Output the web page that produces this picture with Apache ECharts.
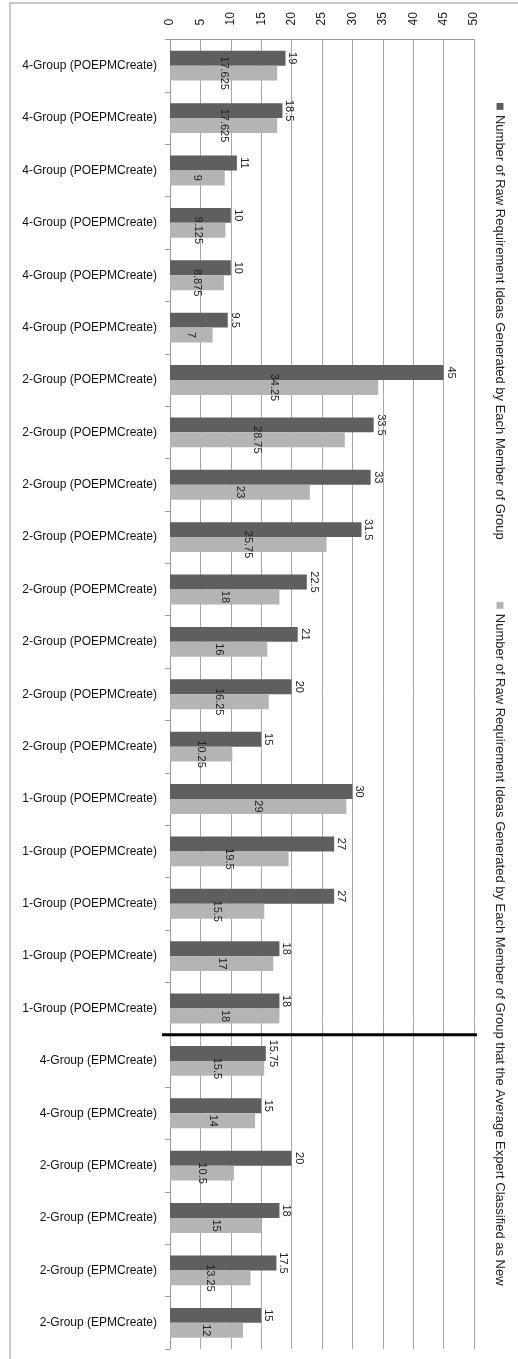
<!DOCTYPE html>
<html>
<head>
<meta charset="utf-8">
<script src="https://cdn.jsdelivr.net/npm/echarts@6/dist/echarts.min.js"></script>
<style>html,body{margin:0;padding:0;background:#fff}#c{width:518px;height:1359px}</style>
</head>
<body>
<div id="c"></div>
<script>
const categories = [
  '4-Group (POEPMCreate)','4-Group (POEPMCreate)','4-Group (POEPMCreate)','4-Group (POEPMCreate)','4-Group (POEPMCreate)','4-Group (POEPMCreate)',
  '2-Group (POEPMCreate)','2-Group (POEPMCreate)','2-Group (POEPMCreate)','2-Group (POEPMCreate)','2-Group (POEPMCreate)','2-Group (POEPMCreate)','2-Group (POEPMCreate)','2-Group (POEPMCreate)',
  '1-Group (POEPMCreate)','1-Group (POEPMCreate)','1-Group (POEPMCreate)','1-Group (POEPMCreate)','1-Group (POEPMCreate)',
  '4-Group (EPMCreate)','4-Group (EPMCreate)',
  '2-Group (EPMCreate)','2-Group (EPMCreate)','2-Group (EPMCreate)','2-Group (EPMCreate)'
];
const seriesNames = [
  'Number of Raw Requirement Ideas Generated by Each Member of Group',
  'Number of Raw Requirement Ideas Generated by Each Member of Group that the Average Expert Classified as New'
];
const rawIdeas = [19,18.5,11,10,10,9.5, 45,33.5,33,31.5,22.5,21,20,15, 30,27,27,18,18, 15.75,15, 20,18,17.5,15];
const newIdeas = [17.625,17.625,9,9.125,8.875,7, 34.25,28.75,23,25.75,18,16,16.25,10.25, 29,19.5,15.5,17,18, 15.5,14, 10.5,15,13.25,12];
const separatorAfterIndex = 18;
const axisMin = 0, axisMax = 50, axisStep = 5;

const FONT = 'Liberation Sans';
const colors = ['#5f5f5f', '#b4b4b4'];

const chart = echarts.init(document.getElementById('c'), null, {renderer: 'canvas'});
const option = {
  animation: false,
  backgroundColor: '#fff',
  textStyle: {fontFamily: FONT},
  grid: {left: 170, right: 44, top: 39.5, bottom: 10, containLabel: false},
  xAxis: {
    type: 'value', position: 'top', min: axisMin, max: axisMax, interval: axisStep,
    axisLine: {show: true, lineStyle: {color: '#999', width: 1}},
    axisTick: {show: false},
    axisLabel: {rotate: -90, margin: 14, fontSize: 12, color: '#222', fontFamily: FONT},
    splitLine: {show: true, lineStyle: {color: '#a6a6a6', width: 1}}
  },
  yAxis: {
    type: 'category', inverse: true, data: categories,
    axisLine: {show: true, lineStyle: {color: '#999', width: 1}},
    axisTick: {show: true, length: 5, interval: 0, lineStyle: {color: '#999'}},
    axisLabel: {interval: 0, margin: 13, fontSize: 12, color: '#111', fontFamily: FONT},
    splitLine: {show: false}
  },
  series: [
    {
      name: seriesNames[0], type: 'bar', data: rawIdeas, barGap: '0%', barCategoryGap: '43%',
      itemStyle: {color: colors[0]},
      label: {show: true, position: 'right', distance: 7, rotate: -90, align: 'center', verticalAlign: 'middle',
        fontSize: 11, color: '#222', fontFamily: FONT}
    },
    {
      name: seriesNames[1], type: 'bar', data: newIdeas, barGap: '0%', barCategoryGap: '43%',
      itemStyle: {color: colors[1]},
      label: {show: true, position: 'inside', rotate: -90, align: 'center', verticalAlign: 'middle',
        fontSize: 11, color: '#222', fontFamily: FONT}
    }
  ]
};
chart.setOption(option);

// separator line between categories, computed from axes
const ya = chart.convertToPixel({yAxisIndex: 0}, separatorAfterIndex);
const yb = chart.convertToPixel({yAxisIndex: 0}, separatorAfterIndex + 1);
const ySep = (ya + yb) / 2;
const x0 = chart.convertToPixel({xAxisIndex: 0}, axisMin);
const x1 = chart.convertToPixel({xAxisIndex: 0}, axisMax);

// legend (rotated), centred along the plot height
const LFONT = '13px "' + FONT + '"';
let w1, w2;
try {
  const cv = document.createElement('canvas').getContext('2d');
  cv.font = LFONT;
  w1 = cv.measureText(seriesNames[0]).width;
  w2 = cv.measureText(seriesNames[1]).width;
} catch (e) { w1 = seriesNames[0].length * 6.5; w2 = seriesNames[1].length * 6.5; }
const legendGap = 62;
const total = 12 + w1 + legendGap + 12 + w2;
const plotTop = chart.convertToPixel({yAxisIndex: 0}, 0) - (yb - ya) / 2;
const plotBottom = chart.convertToPixel({yAxisIndex: 0}, categories.length - 1) + (yb - ya) / 2;
const legendY = (plotTop + plotBottom) / 2 - total / 2;
const item2Start = 12 + w1 + legendGap;

chart.setOption({
  graphic: [
    {type: 'rect', shape: {x: 10, y: 3, width: 600, height: 1500}, style: {fill: 'none', stroke: '#b8b8b8', lineWidth: 1.5}, z: 0, silent: true},
    {type: 'line', shape: {x1: x0 - 8, y1: ySep, x2: x1 + 3, y2: ySep}, style: {stroke: '#000', lineWidth: 3}, z: 100},
    {
      type: 'group', x: 500, y: legendY, rotation: -Math.PI / 2,
      children: [
        {type: 'rect', shape: {x: 0, y: -3.5, width: 7, height: 7}, style: {fill: colors[0]}},
        {type: 'text', x: 12, y: 0, style: {text: seriesNames[0], font: LFONT, fill: '#222', verticalAlign: 'middle'}},
        {type: 'rect', shape: {x: item2Start, y: -3.5, width: 7, height: 7}, style: {fill: colors[1]}},
        {type: 'text', x: item2Start + 12, y: 0, style: {text: seriesNames[1], font: LFONT, fill: '#222', verticalAlign: 'middle'}}
      ]
    }
  ]
});
</script>
</body>
</html>
